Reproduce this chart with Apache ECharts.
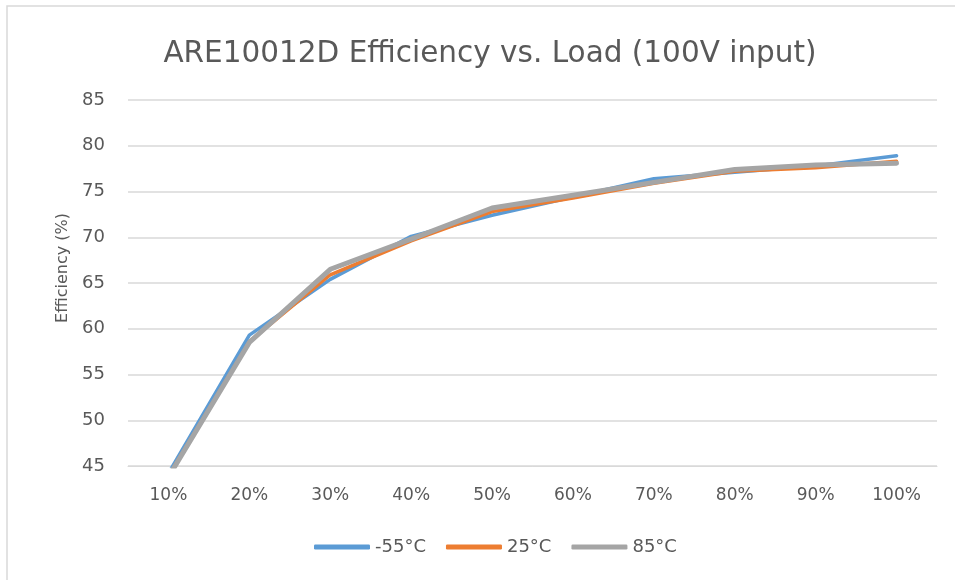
<!DOCTYPE html>
<html>
<head>
<meta charset="utf-8">
<script src="https://cdn.jsdelivr.net/npm/echarts@6/dist/echarts.min.js"></script>
<style>html,body{margin:0;padding:0;background:#fff}#c{width:955px;height:580px}</style>
</head>
<body>
<div id="c"></div>
<script>
const categories = ['10%','20%','30%','40%','50%','60%','70%','80%','90%','100%'];
const seriesNames = ['-55°C','25°C','85°C'];
const valsM55 = [44.2, 59.3, 65.4, 70.1, 72.4, 74.4, 76.4, 77.1, 77.8, 78.9];
const vals25  = [43.9, 58.6, 65.9, 69.6, 72.8, 74.3, 75.9, 77.2, 77.6, 78.3];
const vals85  = [43.8, 58.5, 66.5, 69.8, 73.2, 74.6, 76.0, 77.4, 77.9, 78.1];
const yTicks = {min: 45, max: 85, interval: 5};
const colors = ['#5B9BD5', '#ED7D31', '#A5A5A5'];
const font = '"DejaVu Sans", "Liberation Sans", sans-serif';

const chart = echarts.init(document.getElementById('c'), null, {renderer: 'canvas'});
chart.setOption({
  animation: false,
  backgroundColor: '#fff',
  graphic: [{
    type: 'rect', shape: {x: 7, y: 6, width: 1000, height: 700},
    style: {fill: 'none', stroke: '#d9d9d9', lineWidth: 1.5}, silent: true, z: -1
  }],
  title: {
    text: 'ARE10012D Efficiency vs. Load (100V input)',
    left: 485, top: 34, textAlign: 'center',
    textStyle: {fontFamily: font, fontSize: 29.5, fontWeight: 'normal', color: '#595959'}
  },
  grid: {left: 128, right: 18, top: 100, bottom: 114, containLabel: false},
  legend: {
    data: seriesNames, bottom: 19, left: 309, itemWidth: 56, itemHeight: 5,
    itemGap: 20, icon: 'roundRect',
    textStyle: {fontFamily: font, fontSize: 18, color: '#595959'}
  },
  xAxis: {
    type: 'category', data: categories, boundaryGap: true,
    axisLine: {lineStyle: {color: '#d9d9d9'}}, axisTick: {show: false},
    axisLabel: {fontFamily: font, fontSize: 17, color: '#595959', margin: 21}
  },
  yAxis: {
    type: 'value', min: yTicks.min, max: yTicks.max, interval: yTicks.interval,
    name: 'Efficiency (%)', nameLocation: 'middle', nameGap: 57,
    nameTextStyle: {fontFamily: font, fontSize: 16, color: '#595959', padding: [0, 0, 0, 30]},
    axisLine: {show: false}, axisTick: {show: false},
    axisLabel: {fontFamily: font, fontSize: 18, color: '#595959', margin: 23},
    splitLine: {lineStyle: {color: '#d9d9d9', width: 1.5}}
  },
  series: [
    {name: seriesNames[0], type: 'line', data: valsM55, symbol: 'none', clip: true,
     itemStyle: {color: colors[0]}, lineStyle: {color: colors[0], width: 3.5, cap: 'round'}},
    {name: seriesNames[1], type: 'line', data: vals25, symbol: 'none', clip: true,
     itemStyle: {color: colors[1]}, lineStyle: {color: colors[1], width: 3.5, cap: 'round'}},
    {name: seriesNames[2], type: 'line', data: vals85, symbol: 'none', clip: true,
     itemStyle: {color: colors[2]}, lineStyle: {color: colors[2], width: 5, cap: 'round'}}
  ]
});
</script>
</body>
</html>
